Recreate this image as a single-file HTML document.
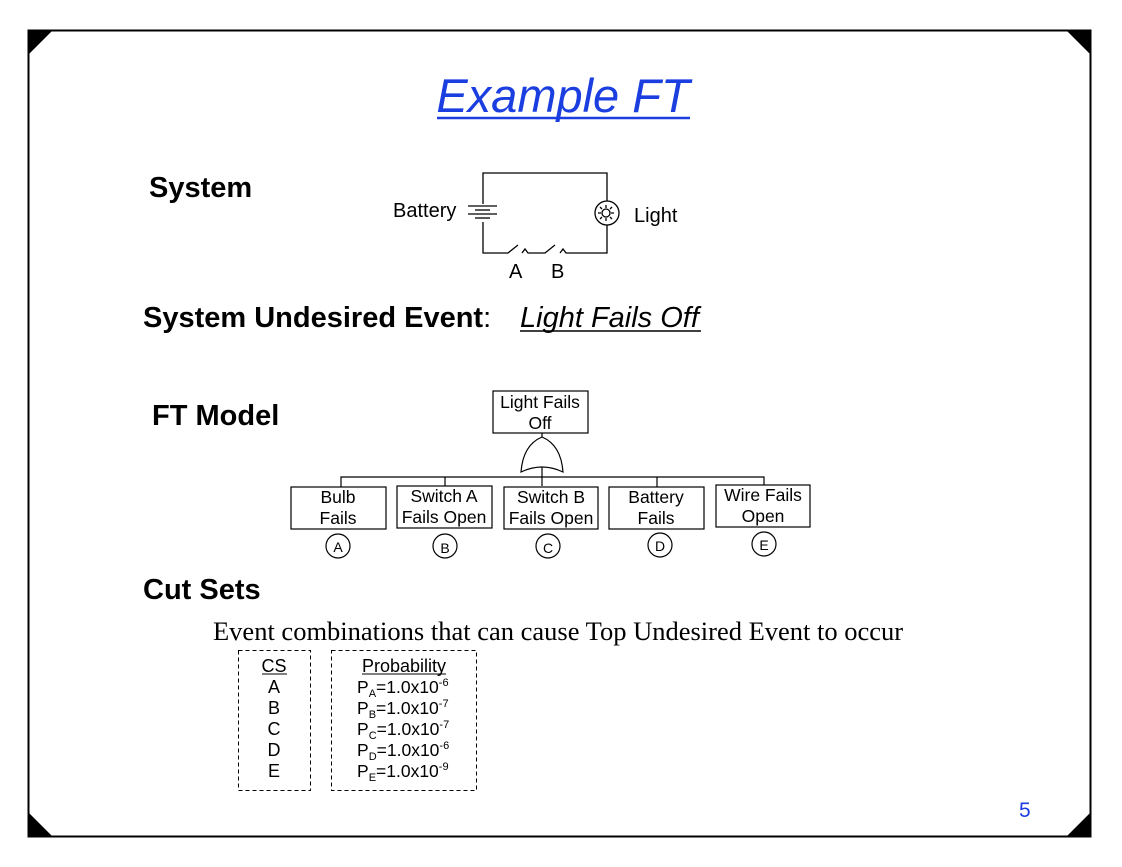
<!DOCTYPE html>
<html><head><style>
body{margin:0;background:#fff;}
svg{display:block;font-family:"Liberation Sans",sans-serif;}
</style></head><body>
<svg width="1122" height="867" viewBox="0 0 1122 867">
<rect x="28.5" y="30.5" width="1062" height="806" fill="none" stroke="#000" stroke-width="2"/>
<polygon points="28,30 53,30 28,55" fill="#000"/>
<polygon points="1091,30 1066,30 1091,55" fill="#000"/>
<polygon points="28,837 53,837 28,812" fill="#000"/>
<polygon points="1091,837 1066,837 1091,812" fill="#000"/>
<text x="563" y="112" text-anchor="middle" font-size="47" font-style="italic" fill="#1a3ee0">Example FT</text>
<line x1="437" y1="118" x2="690" y2="118" stroke="#1a3ee0" stroke-width="2.5"/>
<text x="149" y="197" font-size="29" font-weight="bold">System</text>
<g stroke="#000" stroke-width="1.3" fill="none">
<polyline points="483,204 483,173 607,173 607,201"/>
<polyline points="483,222 483,253 508,253 518,245"/>
<polyline points="522,253 525,249 528,253 545,253 555,245"/>
<polyline points="560,253 563,249 566,253 607,253 607,225"/>
<line x1="468" y1="206" x2="497" y2="206"/>
<line x1="475" y1="210" x2="490" y2="210"/>
<line x1="468" y1="214" x2="497" y2="214"/>
<line x1="475" y1="218" x2="490" y2="218"/>
<circle cx="607" cy="213" r="12"/>
<circle cx="606" cy="213" r="4"/>
<path d="M606,205v3M606,218v3M598,213h3M611,213h3M600,207l2,2M612,207l-2,2M600,219l2,-2M612,219l-2,-2"/>
</g>
<text x="393" y="217" font-size="20">Battery</text>
<text x="634" y="222" font-size="20">Light</text>
<text x="509" y="278" font-size="20">A</text>
<text x="551" y="278" font-size="20">B</text>
<text x="143" y="327" font-size="29" font-weight="bold">System Undesired Event<tspan font-weight="normal">:</tspan></text>
<text x="520" y="327" font-size="29" font-style="italic">Light Fails Off</text>
<line x1="520" y1="331" x2="701" y2="331" stroke="#000" stroke-width="1.5"/>
<text x="152" y="425" font-size="29" font-weight="bold">FT Model</text>
<g stroke="#000" stroke-width="1.2" fill="#fff">
<rect x="493" y="391" width="95" height="42"/>
<line x1="542" y1="433" x2="542" y2="438"/>
<path d="M521,472 Q523,445 542,437 Q561,445 563,472 Q542,462 521,472 Z"/>
<line x1="542" y1="467" x2="542" y2="486"/>
<polyline points="341,487 341,477 764,477 764,485" fill="none"/>
<line x1="445" y1="477" x2="445" y2="486"/>
<line x1="657" y1="477" x2="657" y2="487"/>
<rect x="291" y="487" width="95" height="42"/>
<rect x="397" y="486" width="95" height="42"/>
<rect x="504" y="487" width="94" height="42"/>
<rect x="609" y="487" width="95" height="42"/>
<rect x="716" y="485" width="94" height="42"/>
<circle cx="338" cy="546" r="12"/>
<circle cx="445" cy="546" r="12"/>
<circle cx="548" cy="546" r="12"/>
<circle cx="660" cy="545" r="12"/>
<circle cx="764" cy="544" r="12"/>
</g>
<g font-size="17.5" text-anchor="middle">
<text x="540" y="408">Light Fails</text><text x="540" y="429">Off</text>
<text x="338" y="503">Bulb</text><text x="338" y="524">Fails</text>
<text x="444" y="502">Switch A</text><text x="444" y="523">Fails Open</text>
<text x="551" y="503">Switch B</text><text x="551" y="524">Fails Open</text>
<text x="656" y="503">Battery</text><text x="656" y="524">Fails</text>
<text x="763" y="501">Wire Fails</text><text x="763" y="522">Open</text>
</g>
<g font-size="14" text-anchor="middle">
<text x="338" y="552">A</text><text x="445" y="553">B</text><text x="548" y="553">C</text><text x="660" y="551">D</text><text x="764" y="550">E</text>
</g>
<text x="143" y="599" font-size="29" font-weight="bold">Cut Sets</text>
<text x="213" y="640" font-size="26.5" font-family="Liberation Serif,serif">Event combinations that can cause Top Undesired Event to occur</text>
<g stroke="#000" stroke-width="1" stroke-dasharray="4,3" fill="none">
<rect x="238.5" y="650.5" width="72" height="140"/>
<rect x="331.5" y="650.5" width="145" height="140"/>
</g>
<g font-size="18" text-anchor="middle">
<text x="274" y="672">CS</text>
<text x="274" y="693">A</text><text x="274" y="714">B</text><text x="274" y="735">C</text><text x="274" y="756">D</text><text x="274" y="777">E</text>
<text x="404" y="672">Probability</text>
</g>
<line x1="262" y1="674" x2="287" y2="674" stroke="#000"/>
<line x1="362" y1="674" x2="446" y2="674" stroke="#000"/>
<g font-size="17.5">
<text x="357" y="693">P<tspan font-size="11" dy="4">A</tspan><tspan dy="-4">=1.0x10</tspan><tspan font-size="11" dy="-7">-6</tspan></text>
<text x="357" y="714">P<tspan font-size="11" dy="4">B</tspan><tspan dy="-4">=1.0x10</tspan><tspan font-size="11" dy="-7">-7</tspan></text>
<text x="357" y="735">P<tspan font-size="11" dy="4">C</tspan><tspan dy="-4">=1.0x10</tspan><tspan font-size="11" dy="-7">-7</tspan></text>
<text x="357" y="756">P<tspan font-size="11" dy="4">D</tspan><tspan dy="-4">=1.0x10</tspan><tspan font-size="11" dy="-7">-6</tspan></text>
<text x="357" y="777">P<tspan font-size="11" dy="4">E</tspan><tspan dy="-4">=1.0x10</tspan><tspan font-size="11" dy="-7">-9</tspan></text>
</g>
<text x="1019" y="817" font-size="21" fill="#1a3ee0">5</text>
</svg>
</body></html>
